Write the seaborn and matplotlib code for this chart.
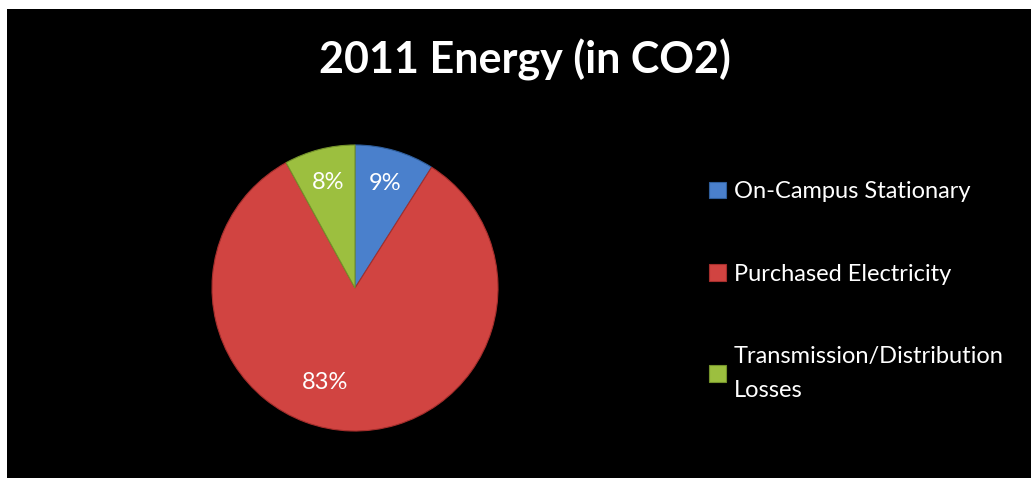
import matplotlib
matplotlib.use("Agg")
import matplotlib.pyplot as plt
import seaborn as sns
from matplotlib.patches import Rectangle

categories = ["On-Campus Stationary", "Purchased Electricity", "Transmission/Distribution\nLosses"]
values = [9, 83, 8]
title = "2011 Energy (in CO2)"

sns.set_theme(style="white")
plt.rcParams["font.family"] = ["Lato", "DejaVu Sans"]

colors = sns.color_palette(["#4A80CC", "#D14441", "#9CBF3F"])
edge_colors = ["#2F5E9C", "#A52E2C", "#74922B"]

W, H = 1031, 482
fig = plt.figure(figsize=(W / 100, H / 100), dpi=100, facecolor="white")
fig.patches.append(Rectangle((7 / W, 4 / H), 1 - 7 / W, (H - 13) / H,
                             transform=fig.transFigure, facecolor="black",
                             edgecolor="none", zorder=-5))

cx, cy, r = 355, 288, 143
ax = fig.add_axes([(cx - r) / W, (H - cy - r) / H, 2 * r / W, 2 * r / H])
ax.set_facecolor("none")
ax.set_zorder(2)
wedges, texts, autotexts = ax.pie(
    values, colors=colors, startangle=90, counterclock=False,
    autopct=lambda p: f"{p:.0f}%", pctdistance=0.76,
    wedgeprops=dict(linewidth=0.8),
    textprops=dict(color="white", fontsize=17),
)
for w, ec in zip(wedges, edge_colors):
    w.set_edgecolor(ec)
autotexts[1].set_position((-0.21, -0.66))
ax.set_xlim(-1, 1)
ax.set_ylim(-1, 1)
ax.set_aspect("equal")
ax.axis("off")

fig.text(525 / W, 1 - 60 / H, title, color="white", fontsize=31,
         fontweight="bold", ha="center", va="center", zorder=3)

leg = fig.legend(wedges, categories, loc="upper left",
                 bbox_to_anchor=(688 / W, 1 - 160 / H), frameon=False,
                 fontsize=17, labelcolor="white", handlelength=0.7,
                 handleheight=0.7, handletextpad=0.35, labelspacing=2.6)
leg.set_zorder(3)
for t in leg.get_texts():
    t.set_linespacing(1.75)

fig.savefig("out.png", dpi=100, facecolor="white")
